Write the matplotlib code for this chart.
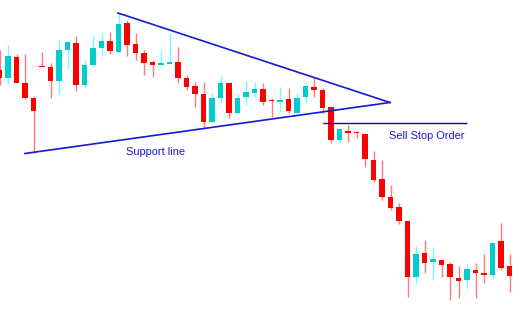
import numpy as np
import matplotlib
matplotlib.use('Agg')
import matplotlib.pyplot as plt

# candle data (arbitrary price units)
opens = [241, 233, 254, 228, 213, 245, 244, 230, 261, 268, 226, 246, 263, 270, 259, 288, 267, 258, 249, 246,
         247, 249, 233, 225, 217, 189, 213, 228, 198, 214, 218, 222, 211, 209, 212, 198, 214, 224, 221, 204,
         171, 180, 178, 177, 151, 132, 114, 104, 90, 34, 58, 49, 51, 47, 33, 31, 41, 38, 36, 70, 45]
highs = [261, 266, 257, 257, 215, 259, 248, 271, 270, 275, 251, 276, 278, 279, 298, 291, 278, 261, 251, 261,
         278, 264, 236, 229, 229, 218, 235, 228, 218, 230, 229, 228, 213, 224, 223, 218, 226, 233, 223, 205,
         183, 186, 180, 178, 160, 151, 126, 108, 90, 65, 71, 64, 51, 49, 45, 46, 48, 57, 68, 88, 57]
lows = [226, 227, 228, 212, 158, 244, 213, 217, 242, 220, 223, 246, 255, 257, 259, 255, 251, 236, 234, 246,
        247, 228, 221, 204, 183, 189, 208, 193, 198, 206, 214, 206, 194, 199, 198, 198, 208, 214, 198, 168,
        168, 169, 173, 144, 129, 111, 101, 87, 14, 27, 38, 31, 34, 11, 13, 22, 13, 28, 33, 41, 19]
closes = [233, 255, 228, 213, 200, 244, 230, 261, 269, 226, 246, 263, 270, 260, 287, 266, 258, 248, 246, 248,
          249, 233, 224, 217, 189, 213, 228, 198, 213, 219, 222, 209, 210, 211, 200, 213, 225, 221, 203, 171,
          182, 178, 178, 152, 131, 114, 103, 90, 34, 57, 48, 52, 46, 34, 30, 42, 38, 36, 68, 43, 35]

# trend lines: (candle index, price)
resistance_pts = [(13.94, 298), (45.94, 208.5)]
support_pts = [(3.0, 157.5), (45.94, 208.5)]
sell_stop_price = 188
sell_stop_span = (38.06, 55.0)

RED = '#ff0000'
RED_WICK = '#ff7a7a'
CYAN = '#00cccc'
CYAN_WICK = '#70ffff'
BLUE = '#1818d8'

fig = plt.figure(figsize=(5.28, 3.11), dpi=100)
ax = fig.add_axes([0, 0, 1, 1])
ax.set_axis_off()

x = np.arange(len(opens))
o = np.array(opens, float)
c = np.array(closes, float)
h = np.array(highs, float)
l = np.array(lows, float)
up = c > o

# wicks
ax.vlines(x[up], l[up], h[up], color=CYAN_WICK, lw=1.0, zorder=1)
ax.vlines(x[~up], l[~up], h[~up], color=RED_WICK, lw=1.0, zorder=1)

# bodies
bottom = np.minimum(o, c)
height = np.maximum(np.abs(c - o), 1.0)
colors = [CYAN if u else RED for u in up]
ax.bar(x, height, bottom=bottom, width=0.7, color=colors, linewidth=0, zorder=2)

# pattern lines
ax.plot([p[0] for p in resistance_pts], [p[1] for p in resistance_pts], color=BLUE, lw=1.2, zorder=3)
ax.plot([p[0] for p in support_pts], [p[1] for p in support_pts], color=BLUE, lw=1.2, zorder=3)
ax.hlines(sell_stop_price, sell_stop_span[0], sell_stop_span[1], color='#0000b8', lw=1.0, zorder=3)

ax.text(14.88, 159, 'Support line', color=BLUE, fontsize=7.9, family='Liberation Sans',
        ha='left', va='center')
ax.text(45.8, 175, 'Sell Stop Order', color=BLUE, fontsize=7.9, family='Liberation Sans',
        ha='left', va='center')

ax.set_xlim(0.5 / 8.5, 528.5 / 8.5)
ax.set_ylim(0, 311)

plt.savefig('out.png', dpi=100)
